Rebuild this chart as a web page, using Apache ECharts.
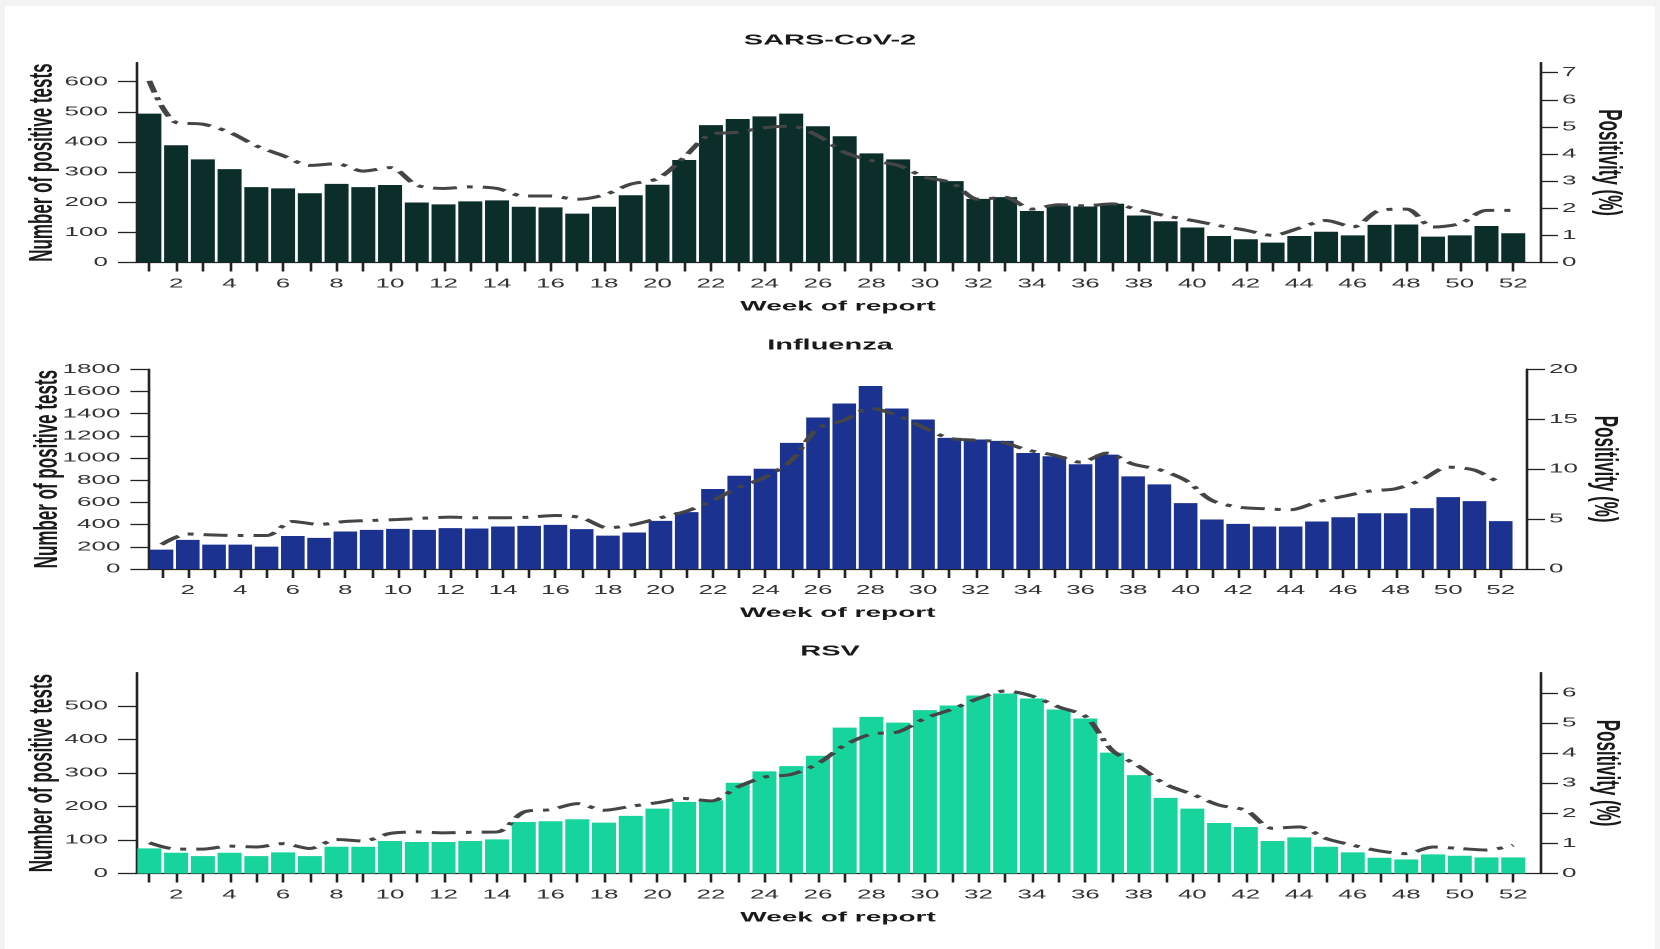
<!DOCTYPE html>
<html>
<head>
<meta charset="utf-8">
<title>Positive tests and positivity by week</title>
<script src="https://cdn.jsdelivr.net/npm/echarts@6/dist/echarts.min.js"></script>
<style>
  html, body { margin: 0; padding: 0; background: #f3f3f3; overflow: hidden; }
  #paper { position: absolute; left: 5px; top: 6px; width: 1650px; height: 943px; background: #fff; }
  /* the source figure is stretched about 2x sideways, so draw at half width and stretch it */
  #chart { position: absolute; left: 0; top: 0; width: 830px; height: 949px; transform: scaleX(2); transform-origin: 0 0; }
</style>
</head>
<body>
<div id="paper"></div>
<div id="chart"></div>
<script>
// Data
const weeks = Array.from({ length: 52 }, (_, i) => i + 1);
const evenWeeks = weeks.filter(w => w % 2 === 0);

const sarsTests = [494, 389, 342, 310, 250, 246, 230, 261, 250, 257,
    199, 193, 203, 206, 185, 183, 162, 185, 223, 258,
    340, 456, 476, 485, 494, 452, 419, 362, 342, 287,
    270, 211, 217, 171, 189, 186, 195, 156, 137, 116,
    88, 77, 66, 88, 102, 90, 125, 126, 86, 90,
    121, 97];
const sarsPositivity = [6.7, 5.16, 5.1, 4.8, 4.3, 3.94, 3.58, 3.64, 3.37, 3.5,
    2.85, 2.73, 2.79, 2.73, 2.45, 2.45, 2.33, 2.49, 2.89, 3.09,
    3.88, 4.73, 4.8, 4.97, 5.03, 4.67, 4.06, 3.76, 3.58, 3.15,
    2.94, 2.33, 2.4, 1.97, 2.13, 2.09, 2.16, 1.94, 1.72, 1.55,
    1.36, 1.19, 1.0, 1.27, 1.55, 1.31, 1.92, 1.97, 1.31, 1.43,
    1.92, 1.92];

const fluTests = [175, 262, 220, 220, 202, 298, 280, 338, 353, 362,
    353, 368, 365, 383, 389, 398, 359, 301, 329, 434,
    513, 721, 841, 904, 1137, 1366, 1492, 1649, 1447, 1348,
    1182, 1167, 1155, 1046, 1016, 944, 1031, 835, 763, 594,
    446, 407, 383, 383, 428, 467, 503, 503, 549, 648,
    612, 431];
const fluPositivity = [2.45, 3.5, 3.4, 3.35, 3.35, 4.76, 4.46, 4.76, 4.86, 4.96,
    5.09, 5.19, 5.13, 5.13, 5.19, 5.36, 5.13, 4.12, 4.46, 5.13,
    5.8, 6.87, 8.2, 9.2, 10.9, 14.1, 14.9, 16.1, 15.4, 14.2,
    13.1, 12.9, 12.7, 11.9, 11.4, 10.7, 11.6, 10.5, 9.95, 8.88,
    6.87, 6.2, 6.03, 5.93, 6.7, 7.27, 7.8, 8.04, 8.94, 10.2,
    9.9, 8.54];

const rsvTests = [75, 62, 52, 62, 52, 63, 52, 80, 80, 97,
    94, 94, 97, 102, 154, 156, 162, 152, 172, 194,
    214, 219, 271, 305, 321, 352, 436, 468, 451, 488,
    502, 532, 538, 523, 490, 463, 361, 294, 226, 194,
    151, 139, 97, 108, 80, 63, 47, 42, 57, 53,
    48, 48];
const rsvPositivity = [1.02, 0.81, 0.81, 0.91, 0.88, 0.99, 0.83, 1.13, 1.08, 1.33,
    1.38, 1.35, 1.37, 1.38, 2.04, 2.12, 2.32, 2.1, 2.23, 2.35,
    2.49, 2.41, 2.87, 3.2, 3.29, 3.65, 4.26, 4.63, 4.7, 5.15,
    5.45, 5.81, 6.06, 5.89, 5.53, 5.22, 4.09, 3.56, 2.96, 2.63,
    2.27, 2.1, 1.5, 1.55, 1.16, 0.94, 0.75, 0.66, 0.88, 0.83,
    0.78, 0.94];

const titles = ['SARS-CoV-2', 'Influenza', 'RSV'];
const testsTicks = [
    [0, 100, 200, 300, 400, 500, 600],
    [0, 200, 400, 600, 800, 1000, 1200, 1400, 1600, 1800],
    [0, 100, 200, 300, 400, 500]
];
const positivityTicks = [
    [0, 1, 2, 3, 4, 5, 6, 7],
    [0, 5, 10, 15, 20],
    [0, 1, 2, 3, 4, 5, 6]
];
const testsMax = [663, 1800, 600];
// positivity axis is the tests axis divided by 90 in every panel
const axisRatio = 90;

// Layout (in the unstretched 830px wide drawing)
const panels = [
    { tests: sarsTests, positivity: sarsPositivity, color: '#0c2e2b', top: 62.7, height: 199.8, left: 68, right: 60, titleTop: 33, leftGap: 38, rightGap: 25.5 },
    { tests: fluTests, positivity: fluPositivity, color: '#1c3290', top: 369.3, height: 199.7, left: 74.2, right: 66.5, titleTop: 338, leftGap: 42, rightGap: 30 },
    { tests: rsvTests, positivity: rsvPositivity, color: '#17d49d', top: 672.7, height: 200.8, left: 68, right: 60, titleTop: 644, leftGap: 38, rightGap: 24.5 }
];

const axisColor = '#222';
const labelColor = '#333';
const fontFamily = '"Liberation Sans", Arial, sans-serif';

const axisLine = { show: true, lineStyle: { color: axisColor, width: 1.3 } };
const axisTick = (values) => ({ show: true, length: 9, lineStyle: { color: axisColor, width: 1.3 }, customValues: values });
const plain = (v) => String(v);

let title = [], grid = [], xAxis = [], yAxis = [], series = [];

panels.forEach((p, i) => {
    title.push({
        text: titles[i],
        left: 'center',
        top: p.titleTop,
        padding: [0, 0, 0, 8],
        textStyle: { fontSize: 14.5, fontWeight: 'bold', color: '#1a1a1a', fontFamily: fontFamily }
    });
    grid.push({ left: p.left, right: p.right, top: p.top, height: p.height, outerBoundsMode: 'none' });
    xAxis.push({
        type: 'value',
        gridIndex: i,
        min: 0.5,
        max: 53,
        name: 'Week of report',
        nameLocation: 'middle',
        nameGap: 37,
        nameMoveOverlap: false,
        nameTextStyle: { fontSize: 14, fontWeight: 'bold', color: '#1a1a1a', fontFamily: fontFamily },
        axisLine: axisLine,
        axisTick: axisTick(weeks),
        axisLabel: { customValues: evenWeeks, margin: 15, fontSize: 13, color: labelColor, fontFamily: fontFamily, formatter: plain },
        splitLine: { show: false }
    });
    yAxis.push({
        type: 'value',
        gridIndex: i,
        position: 'left',
        min: 0,
        max: testsMax[i],
        name: 'Number of positive tests',
        nameLocation: 'middle',
        nameGap: p.leftGap,
        nameMoveOverlap: false,
        nameTextStyle: { fontSize: 17, fontWeight: 'bold', color: '#1a1a1a', fontFamily: fontFamily },
        axisLine: axisLine,
        axisTick: axisTick(testsTicks[i]),
        axisLabel: { customValues: testsTicks[i], margin: 14, fontSize: 13, color: labelColor, fontFamily: fontFamily, formatter: plain },
        splitLine: { show: false }
    });
    yAxis.push({
        type: 'value',
        gridIndex: i,
        position: 'right',
        min: 0,
        max: testsMax[i] / axisRatio,
        name: 'Positivity (%)',
        nameLocation: 'middle',
        nameRotate: -90,
        nameGap: p.rightGap,
        nameMoveOverlap: false,
        nameTextStyle: { fontSize: 17, fontWeight: 'bold', color: '#1a1a1a', fontFamily: fontFamily },
        axisLine: axisLine,
        axisTick: axisTick(positivityTicks[i]),
        axisLabel: { customValues: positivityTicks[i], margin: 11, fontSize: 13, color: labelColor, fontFamily: fontFamily, formatter: plain },
        splitLine: { show: false }
    });
    series.push({
        type: 'bar',
        xAxisIndex: i,
        yAxisIndex: i * 2,
        barWidth: i === 1 ? 11.8 : 12,
        itemStyle: { color: p.color },
        data: weeks.map((w, k) => [w, p.tests[k]])
    });
    series.push({
        type: 'line',
        xAxisIndex: i,
        yAxisIndex: i * 2 + 1,
        showSymbol: false,
        smooth: 0.3,
        lineStyle: { color: '#454545', width: 3, type: [12, 5, 3, 5] },
        data: weeks.map((w, k) => [w, p.positivity[k]])
    });
});

const myChart = echarts.init(document.getElementById('chart'), null, { renderer: 'canvas', devicePixelRatio: 2 });
myChart.setOption({
    animation: false,
    textStyle: { fontFamily: fontFamily },
    title: title,
    grid: grid,
    xAxis: xAxis,
    yAxis: yAxis,
    series: series
});
</script>
</body>
</html>
